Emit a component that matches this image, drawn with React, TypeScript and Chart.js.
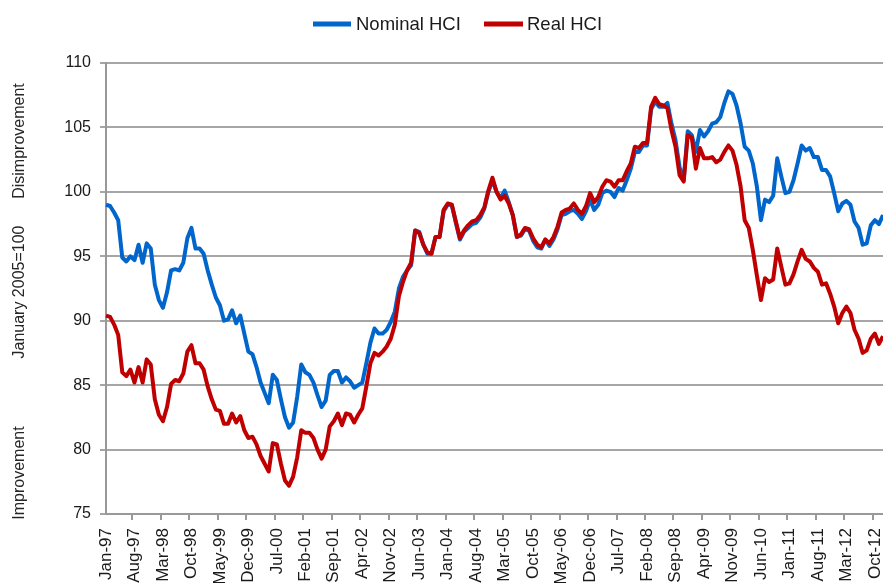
import { useEffect, useRef } from 'react';
import { Chart, registerables } from 'chart.js';

Chart.register(...registerables);

const MONTHS = ['Jan', 'Feb', 'Mar', 'Apr', 'May', 'Jun', 'Jul', 'Aug', 'Sep', 'Oct', 'Nov', 'Dec'];
const YEARS = ['97', '98', '99', '00', '01', '02', '03', '04', '05', '06', '07', '08', '09', '10', '11', '12'];
const categories = YEARS.flatMap((y) => MONTHS.map((m) => `${m}-${y}`));

const nominalHCI = [
  99.0, 98.9, 98.4, 97.8, 94.9, 94.6, 95.0, 94.7, 95.9, 94.5, 96.0, 95.6,
  92.8, 91.6, 91.0, 92.2, 93.9, 94.0, 93.9, 94.5, 96.4, 97.2, 95.6, 95.6,
  95.2, 93.9, 92.8, 91.8, 91.2, 90.0, 90.1, 90.8, 89.8, 90.4, 89.0, 87.6,
  87.4, 86.4, 85.2, 84.4, 83.6, 85.8, 85.4, 83.9, 82.5, 81.7, 82.1, 84.1,
  86.6, 86.0, 85.8, 85.2, 84.2, 83.3, 83.8, 85.8, 86.1, 86.1, 85.2, 85.6,
  85.3, 84.8, 85.0, 85.2, 86.7, 88.3, 89.4, 89.0, 89.0, 89.3, 89.9, 90.7,
  92.5, 93.4, 93.9, 94.3, 97.0, 96.9, 95.9, 95.2, 95.2, 96.5, 96.5, 98.5,
  99.0, 99.0, 97.6, 96.3, 96.9, 97.2, 97.5, 97.6, 98.0, 98.7, 100.0, 100.9,
  100.0, 99.5, 100.1, 99.2, 98.2, 96.5, 96.6, 97.1, 97.0, 96.2, 95.7, 95.6,
  96.3, 95.8, 96.3, 97.1, 98.2, 98.3, 98.5, 98.6, 98.3, 97.9, 98.5, 99.4,
  98.6, 99.0, 99.9, 100.1, 100.0, 99.6, 100.3, 100.1, 100.9, 101.8, 103.1, 103.1,
  103.6, 103.6, 106.4, 107.0, 106.6, 106.6, 106.9, 105.3, 104.0, 101.9, 100.9, 104.7,
  104.4, 103.1, 104.8, 104.3, 104.7, 105.3, 105.4, 105.8, 106.9, 107.8, 107.6, 106.7,
  105.3, 103.5, 103.2, 102.2, 100.4, 97.8, 99.4, 99.2, 99.7, 102.6, 101.2, 99.9,
  100.0, 100.9, 102.2, 103.6, 103.2, 103.4, 102.7, 102.7, 101.7, 101.7, 101.2, 99.9,
  98.5, 99.1, 99.3, 99.0, 97.7, 97.2, 95.9, 96.0, 97.4, 97.8, 97.5, 98.2,
];

const realHCI = [
  90.4, 90.3, 89.7, 88.9, 86.0, 85.7, 86.2, 85.2, 86.4, 85.2, 87.0, 86.6,
  83.9, 82.7, 82.2, 83.3, 85.1, 85.4, 85.3, 85.9, 87.6, 88.1, 86.7, 86.7,
  86.2, 84.9, 83.9, 83.1, 83.0, 82.0, 82.0, 82.8, 82.1, 82.6, 81.5, 80.9,
  81.0, 80.4, 79.5, 78.9, 78.3, 80.5, 80.4, 78.9, 77.6, 77.2, 77.9, 79.4,
  81.5, 81.3, 81.3, 80.9, 80.0, 79.3, 80.0, 81.8, 82.2, 82.8, 81.9, 82.8,
  82.7, 82.1, 82.7, 83.2, 84.9, 86.7, 87.5, 87.3, 87.6, 88.0, 88.6, 89.7,
  91.9, 93.0, 93.9, 94.5, 97.0, 96.8, 95.9, 95.3, 95.2, 96.5, 96.5, 98.6,
  99.1, 99.0, 97.7, 96.4, 97.0, 97.4, 97.7, 97.8, 98.2, 98.8, 100.1, 101.1,
  100.0, 99.4, 99.7, 99.1, 98.2, 96.5, 96.7, 97.2, 97.1, 96.4, 95.9, 95.7,
  96.3, 96.0, 96.5, 97.3, 98.4, 98.6, 98.7, 99.1, 98.6, 98.3, 98.9, 99.9,
  99.2, 99.6, 100.4, 100.9, 100.8, 100.4, 100.9, 100.9, 101.6, 102.2, 103.5, 103.4,
  103.8, 103.8, 106.6, 107.3, 106.8, 106.7, 106.5, 104.8, 103.5, 101.3, 100.8, 104.4,
  104.2, 101.8, 103.4, 102.6, 102.6, 102.7, 102.3, 102.5, 103.1, 103.6, 103.2, 102.1,
  100.4, 97.8, 97.2, 95.5, 93.5, 91.6, 93.3, 93.0, 93.2, 95.6, 94.2, 92.8,
  92.9, 93.6, 94.6, 95.5, 94.8, 94.6, 94.1, 93.8, 92.8, 92.9, 92.1, 91.1,
  89.8, 90.6, 91.1, 90.6, 89.3, 88.6, 87.5, 87.7, 88.6, 89.0, 88.2, 88.8,
];

const seriesNames = ['Nominal HCI', 'Real HCI'];
const axisNotes = ['Disimprovement', 'January 2005=100', 'Improvement'];
const yMin = 75;
const yMax = 110;
const yStep = 5;
const labelEvery = 7;

const BLUE = '#0066CC';
const RED = '#C00000';
const FONT = '"Liberation Sans", Arial, sans-serif';

const overlayPlugin = {
  id: 'overlay',
  afterDraw(chart: any) {
    const ctx = chart.ctx as CanvasRenderingContext2D;
    ctx.save();
    const legend = [
      { x0: 313, x1: 351, tx: 356, color: BLUE, label: seriesNames[0] },
      { x0: 484, x1: 523, tx: 527, color: RED, label: seriesNames[1] },
    ];
    const ly = 24;
    ctx.font = `18.5px ${FONT}`;
    ctx.textBaseline = 'middle';
    ctx.textAlign = 'left';
    legend.forEach((it) => {
      ctx.strokeStyle = it.color;
      ctx.lineWidth = 5;
      ctx.lineCap = 'butt';
      ctx.beginPath();
      ctx.moveTo(it.x0, ly);
      ctx.lineTo(it.x1, ly);
      ctx.stroke();
      ctx.fillStyle = '#1a1a1a';
      ctx.fillText(it.label, it.tx, ly + 1);
    });
    const notePos = [141, 292, 473];
    ctx.font = `16px ${FONT}`;
    ctx.textAlign = 'center';
    ctx.fillStyle = '#262626';
    axisNotes.forEach((t, i) => {
      ctx.save();
      ctx.translate(20, notePos[i]);
      ctx.rotate(-Math.PI / 2);
      ctx.fillText(t, 0, 0);
      ctx.restore();
    });
    ctx.restore();
  },
};

export default function App() {
  const ref = useRef<HTMLCanvasElement | null>(null);
  useEffect(() => {
    document.body.style.margin = '0';
    if (!ref.current) return;
    const chart = new Chart(ref.current, {
      type: 'line',
      data: {
        labels: categories,
        datasets: [
          {
            label: seriesNames[0],
            data: nominalHCI,
            borderColor: BLUE,
            backgroundColor: BLUE,
            borderWidth: 4,
            pointRadius: 0,
            tension: 0,
            borderJoinStyle: 'round',
            order: 2,
          },
          {
            label: seriesNames[1],
            data: realHCI,
            borderColor: RED,
            backgroundColor: RED,
            borderWidth: 4,
            pointRadius: 0,
            tension: 0,
            borderJoinStyle: 'round',
            order: 1,
          },
        ],
      },
      options: {
        responsive: false,
        devicePixelRatio: 1,
        animation: false,
        layout: { padding: { top: 63, left: 0, right: 0, bottom: 0 } },
        plugins: {
          legend: { display: false },
          tooltip: { enabled: false },
          title: { display: false },
        },
        scales: {
          x: {
            type: 'category',
            offset: false,
            border: { display: true, color: '#999999', width: 2 },
            grid: {
              display: true,
              offset: true,
              drawOnChartArea: false,
              drawTicks: true,
              tickLength: 6,
              lineWidth: 2,
              color: (c: any) => (c.index % labelEvery === 0 ? '#999999' : 'rgba(0,0,0,0)'),
            },
            ticks: {
              autoSkip: false,
              minRotation: 90,
              maxRotation: 90,
              padding: 8,
              color: '#1a1a1a',
              font: { family: FONT, size: 17 },
              callback: (_v: any, i: number) => (i % labelEvery === 0 ? categories[i] : ''),
            },
            afterFit: (s: any) => {
              s.height = 69;
              s.paddingLeft = 0;
              s.paddingRight = 0;
            },
          },
          y: {
            min: yMin,
            max: yMax,
            border: { display: true, color: '#999999', width: 2 },
            grid: {
              color: '#a6a6a6',
              lineWidth: 2,
              drawTicks: true,
              tickLength: 6,
            },
            ticks: {
              stepSize: yStep,
              padding: 9,
              color: '#1a1a1a',
              font: { family: FONT, size: 16 },
            },
            afterFit: (s: any) => {
              s.width = 106;
            },
          },
        },
      },
      plugins: [overlayPlugin],
    });
    return () => chart.destroy();
  }, []);
  return (
    <canvas
      ref={ref}
      width={883}
      height={583}
      style={{ display: 'block', width: '883px', height: '583px' }}
    />
  );
}
